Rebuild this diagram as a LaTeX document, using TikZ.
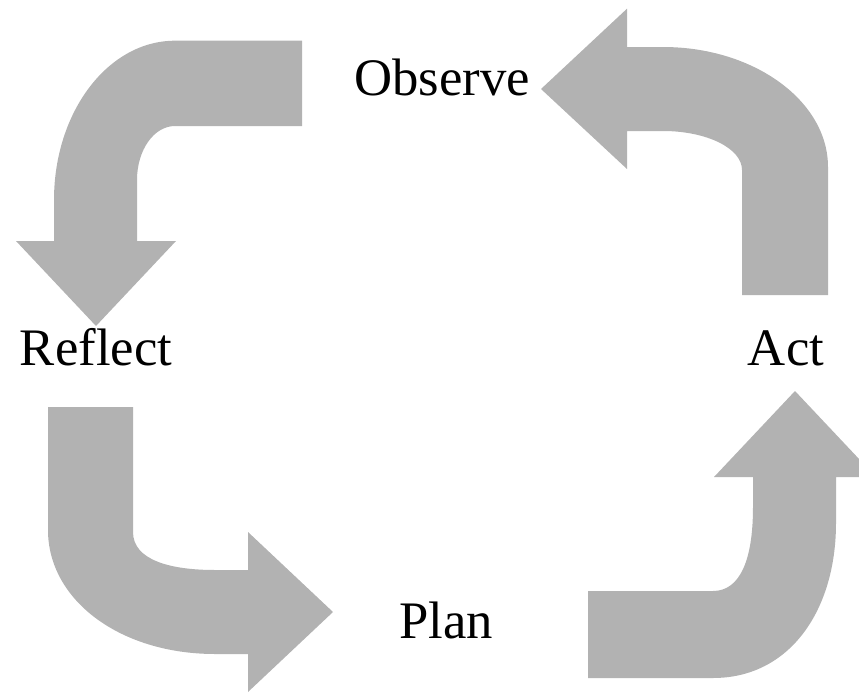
\documentclass[tikz,border=0pt]{standalone}
\usepackage{fontspec}
\setmainfont{Liberation Serif}
\usepackage{tikz}

\begin{document}
\begin{tikzpicture}[x=0.02cm,y=-0.02cm,
    pfeil/.style={fill={rgb,255:red,178;green,178;blue,178}, draw=none},
    wort/.style={anchor=base, inner sep=0pt, font=\fontsize{30}{36}\selectfont},
]

\useasboundingbox (0,0) rectangle (859,693);
\clip (0,0) rectangle (859,693);

\node [wort] (O) at (442,95) {Observe};
\node [wort] (R) at (96,365) {Reflect};
\node [wort] (P) at (446,638) {Plan};
\node [wort] (A) at (786,365) {Act};

\fill [pfeil] (302,40.7) -- (175,40.7) .. controls (108,40.7) and (54,112) .. (54,200)
  -- (54,241) -- (16,241) -- (96,326) -- (176,241) -- (137,241) -- (137,180)
  .. controls (137,150) and (154,126) .. (175,126) -- (302,126) -- cycle;

\fill [pfeil] (48,407) -- (48,530) .. controls (48,600) and (120,654) .. (215,654)
  -- (248,654) -- (248,692) -- (333,612) -- (248,532) -- (248,570) -- (215,570)
  .. controls (170,570) and (133,560) .. (133,532) -- (133,407) -- cycle;

\fill [pfeil] (588,591) -- (713,591) .. controls (740,591) and (753,560) .. (753,507)
  -- (753,477) -- (714,477) -- (795,391) -- (876,477) -- (836,477) -- (836,523)
  .. controls (836,610) and (790,678) .. (713,678) -- (588,678) -- cycle;

\fill [pfeil] (742,295) -- (742,170) .. controls (742,148) and (706,131) .. (663,131)
  -- (627,131) -- (627,169) -- (541,89) -- (627,8.7) -- (627,47) -- (663,47)
  .. controls (754,47) and (828,101) .. (828,167) -- (828,295) -- cycle;

\end{tikzpicture}
\end{document}
